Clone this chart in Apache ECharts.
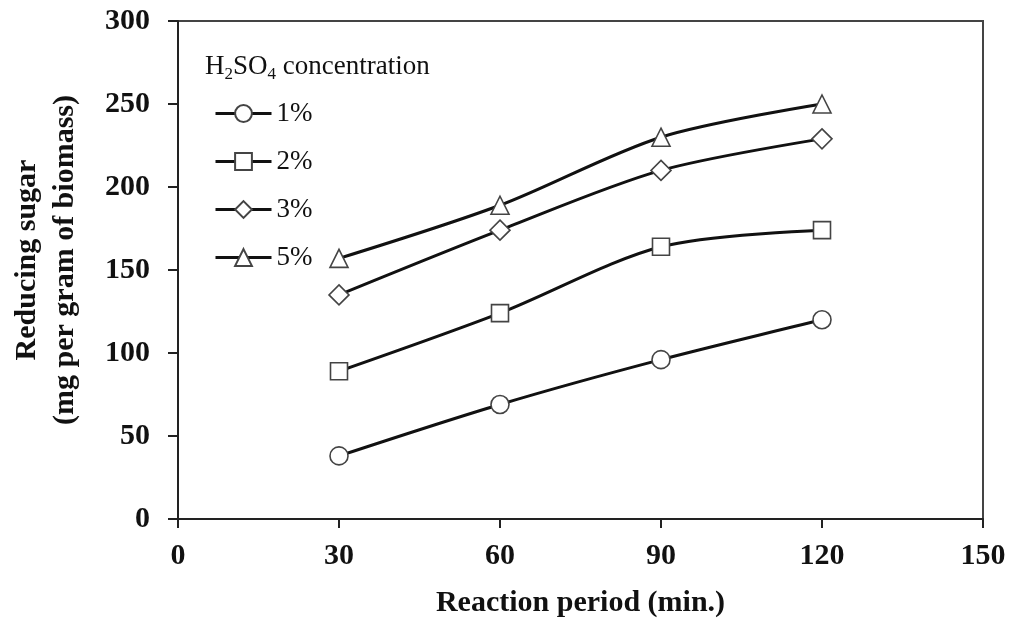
<!DOCTYPE html>
<html><head><meta charset="utf-8">
<script src="https://cdn.jsdelivr.net/npm/echarts@6/dist/echarts.min.js"></script>
<style>html,body{margin:0;padding:0;background:#fff}#c{width:1011px;height:620px}</style>
</head><body><div id="c"></div>
<script>
const periods = [30, 60, 90, 120];
const conc1 = [38, 69, 96, 120];
const conc2 = [89, 124, 164, 174];
const conc3 = [135, 174, 210, 229];
const conc5 = [157, 189, 230, 250];
const seriesNames = ['1%', '2%', '3%', '5%'];
const seriesSymbols = ['circle', 'rect', 'diamond', 'triangle'];
const xTicks = [0, 30, 60, 90, 120, 150];
const yTicks = [0, 50, 100, 150, 200, 250, 300];

const FONT = '"Liberation Serif", "Times New Roman", serif';
const allData = [conc1, conc2, conc3, conc5];
const symSizes = [18, 17, 20, 18];

const chart = echarts.init(document.getElementById('c'), null, {renderer: 'canvas'});
chart.setOption({
  animation: false,
  backgroundColor: '#fff',
  grid: {left: 178, top: 21, right: 28, bottom: 101, outerBoundsMode: 'none', containLabel: false,
    show: true, borderColor: '#444', borderWidth: 2, backgroundColor: 'transparent'},
  title: {
    left: 205, top: 51, padding: 0,
    text: '{a|H}{s|2}{a|SO}{s|4}{a| concentration}',
    textStyle: {
      fontWeight: 'normal',
      rich: {
        a: {fontFamily: FONT, fontSize: 27, fontWeight: 'normal', color: '#111', lineHeight: 32, verticalAlign: 'middle'},
        s: {fontFamily: FONT, fontSize: 17, fontWeight: 'normal', color: '#111', lineHeight: 17, verticalAlign: 'bottom'}
      }
    }
  },
  legend: {
    orient: 'vertical', left: 214, top: 100, itemGap: 21, padding: 0,
    itemWidth: 56, itemHeight: 21,
    data: seriesNames,
    lineStyle: {width: 3, color: '#111'},
    textStyle: {fontFamily: FONT, fontSize: 27, color: '#111'}
  },
  xAxis: {
    type: 'value', min: 0, max: 150, interval: 30,
    name: 'Reaction period (min.)', nameLocation: 'middle', nameGap: 69,
    nameTextStyle: {fontFamily: FONT, fontSize: 30, fontWeight: 'bold', color: '#111'},
    axisLine: {lineStyle: {color: '#222', width: 2}},
    axisTick: {length: 9, lineStyle: {color: '#222', width: 2}},
    axisLabel: {fontFamily: FONT, fontSize: 30, fontWeight: 'bold', color: '#111', margin: 22,
      formatter: v => xTicks.includes(v) ? String(v) : ''},
    splitLine: {show: false}
  },
  yAxis: {
    type: 'value', min: 0, max: 300, interval: 50,
    name: 'Reducing sugar\n(mg per gram of biomass)', nameLocation: 'middle', nameGap: 94,
    nameTextStyle: {fontFamily: FONT, fontSize: 30, fontWeight: 'bold', color: '#111', lineHeight: 38, padding: [0, 0, 0, 20]},
    axisLine: {lineStyle: {color: '#222', width: 2}},
    axisTick: {length: 10, lineStyle: {color: '#222', width: 2}},
    axisLabel: {fontFamily: FONT, fontSize: 30, fontWeight: 'bold', color: '#111', margin: 28,
      formatter: v => yTicks.includes(v) ? String(v) : ''},
    splitLine: {show: false}
  },
  series: seriesNames.map((n, i) => ({
    name: n, type: 'line', smooth: 0.3,
    data: periods.map((p, j) => [p, allData[i][j]]),
    symbol: seriesSymbols[i], symbolSize: symSizes[i],
    lineStyle: {color: '#111', width: 3},
    itemStyle: {color: '#fff', borderColor: '#444', borderWidth: 1.6},
    emphasis: {disabled: true}
  }))
});
</script></body></html>
